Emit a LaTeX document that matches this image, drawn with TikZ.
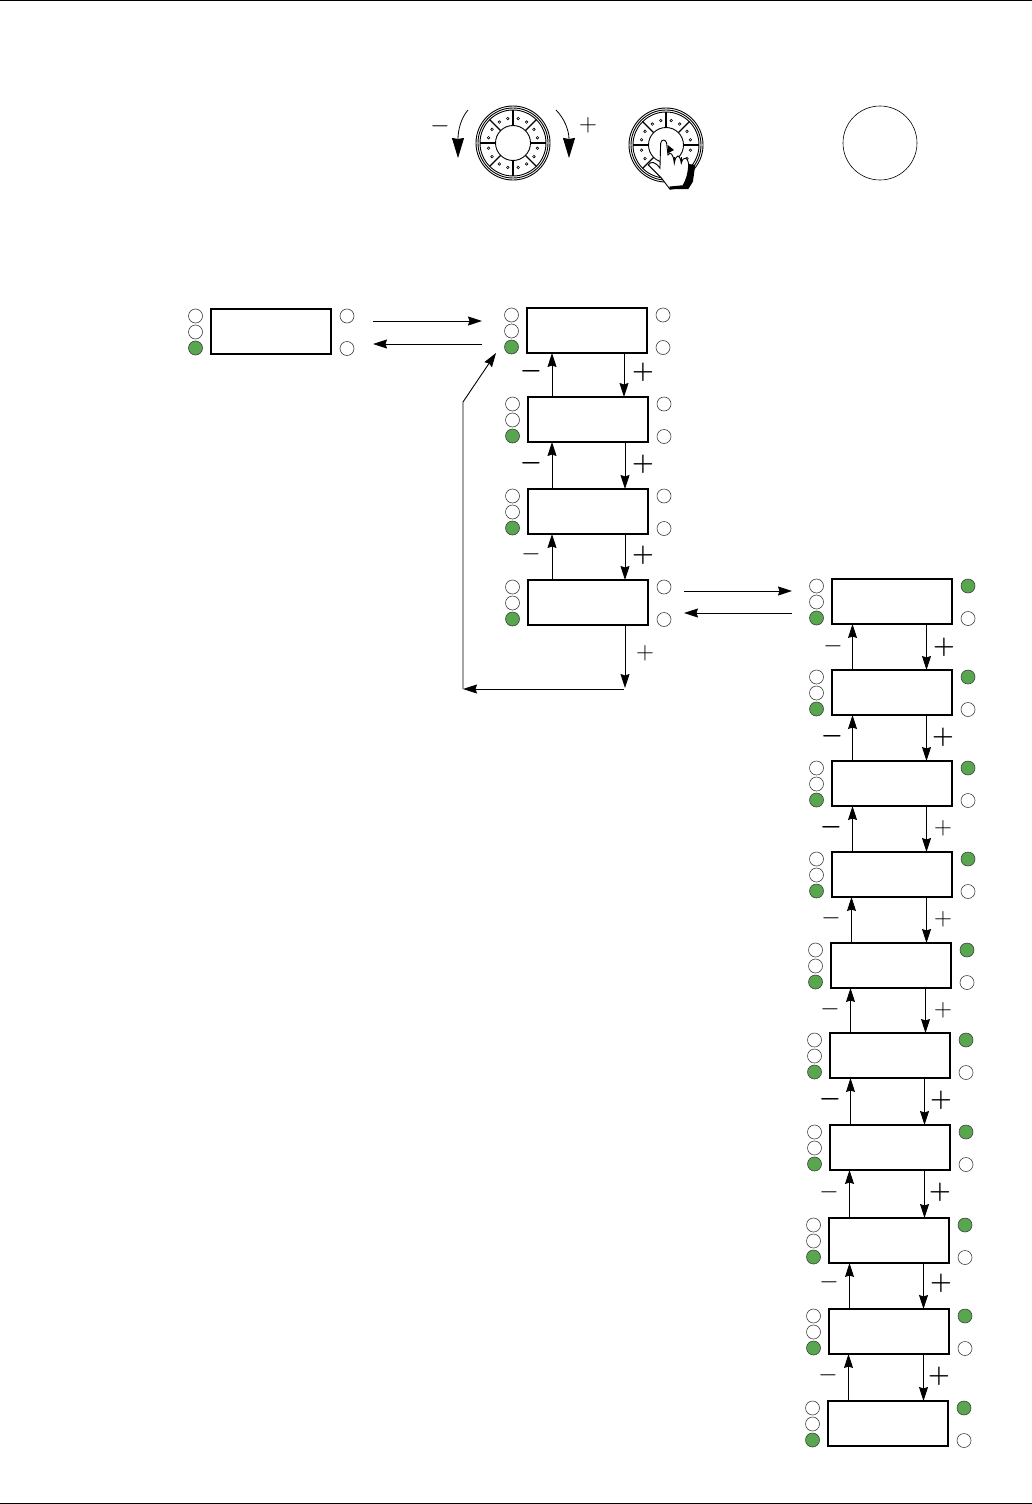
\documentclass[tikz,border=0pt]{standalone}
\usepackage{amsfonts, amssymb, amsmath}
\usetikzlibrary{arrows.meta}
\definecolor{lampgreen}{RGB}{88,167,79}
\tikzset{
  panel/.style={draw, line width=1.7pt, minimum width=120pt, minimum height=45pt, inner sep=0pt, outer sep=0pt, anchor=north west},
  lamp/.style={circle, draw=black!75, line width=0.6pt, minimum size=14pt, inner sep=0pt},
  flow/.style={line width=0.9pt, -{Stealth[length=14pt, width=9pt, inset=1.5pt]}},
  plusthin/.style={font=\fontsize{30}{30}\selectfont, inner sep=0pt},
  plusbold/.style={font=\fontsize{31}{31}\selectfont\boldmath, inner sep=0pt},
}
\begin{document}
\begin{tikzpicture}[x=1pt, y=-1pt]
  \useasboundingbox (0, 0) rectangle (1032, 1504);
  \draw[line width=1pt] (0, 0.5) -- (1032, 0.5);
  \draw[line width=1pt] (0, 1503) -- (1032, 1503);

  % knobs
  \foreach \kx/\ky in {513/143, 666/145} {
    \draw[line width=0.9pt] (\kx, \ky) circle[radius=37] (\kx, \ky) circle[radius=35];
    \draw[line width=0.9pt] (\kx, \ky) circle[radius=33] (\kx, \ky) circle[radius=17.5];
    \foreach \k in {0,...,7} {
      \pgfmathsetmacro\ang{45*\k}
      \pgfmathsetmacro\angA{45*\k+12}
      \pgfmathsetmacro\angB{45*\k+33}
      \draw[line width=1.3pt] ([shift={(\ang:17.5)}]\kx, \ky) -- ([shift={(\ang:33)}]\kx, \ky);
      \draw[line width=0.6pt] ([shift={(\angA:25)}]\kx, \ky) circle[radius=1.3];
      \draw[line width=0.6pt] ([shift={(\angB:25)}]\kx, \ky) circle[radius=1.3];
    }
  }
  \draw[line width=0.6pt] (880, 143) circle[radius=37];

  % hand on the second knob
  \begin{scope}[shift={(620, 100)}, x=0.333pt, y=-0.333pt]
    \draw[fill=white, line width=0.9pt] (85, 195) .. controls (92, 182) and (108, 186) .. (120, 205)
      -- (122, 130) .. controls (124, 117) and (138, 117) .. (140, 130) -- (144, 165)
      .. controls (150, 156) and (160, 158) .. (163, 190)
      .. controls (168, 160) and (180, 162) .. (184, 190)
      .. controls (190, 166) and (205, 170) .. (207, 200)
      -- (205, 260) -- (150, 268) -- (125, 235) -- cycle;
    \fill (205, 192) -- (226, 195) -- (219, 245) -- (205, 268) -- (150, 268) -- (148, 260)
      -- (188, 256) .. controls (198, 240) and (204, 220) .. cycle;
    \fill (143, 135) -- (162, 150) -- (145, 160) -- cycle;
    \draw[line width=0.9pt] (163, 190) -- (163, 170) (184, 190) -- (184, 172);
  \end{scope}

  % turning arrows
  \coordinate (ccwstart) at (468, 110);
  \coordinate (ccwend) at (458, 158);
  \coordinate (cwstart) at (556, 110);
  \coordinate (cwend) at (569, 158);
  \draw[line width=0.8pt, -{Stealth[length=20pt, width=12pt, inset=1pt]}] (ccwstart) .. controls (461, 118) and (458, 130) .. (ccwend);
  \draw[line width=0.8pt, -{Stealth[length=20pt, width=12pt, inset=1pt]}] (cwstart) .. controls (564, 118) and (569, 130) .. (cwend);
  \node[plusthin] (turnminus) at (440, 126) {$-$};
  \node[plusthin] (turnplus) at (588, 125) {$+$};

  % panels
  \foreach \name/\x/\y/\fillc in {
    home/211/309/white,
    ma/527/308/white, mb/528/397/white, mc/528/489/white, md/528/580/white,
    sa/832/579/lampgreen, sb/832/670/lampgreen, sc/832/761/lampgreen, sd/832/852/lampgreen,
    se/831/943/lampgreen, sf/830/1033/lampgreen, sg/830/1125/lampgreen, sh/829/1218/lampgreen,
    si/829/1309/lampgreen, sj/828/1401/lampgreen} {
    \node[panel] (\name) at (\x, \y) {};
    \node[lamp] (\name-a) at (\x-15.5, \y+7) {};
    \node[lamp] (\name-b) at (\x-15.5, \y+23) {};
    \node[lamp, fill=lampgreen] (\name-c) at (\x-15.5, \y+39) {};
    \node[lamp, fill=\fillc] (\name-d) at (\x+136, \y+7) {};
    \node[lamp] (\name-e) at (\x+136, \y+39.5) {};
  }

  % up and down arrows
  \foreach \top/\low in {ma/mb, mb/mc, mc/md} {
    \draw[flow] ([xshift=-36pt]\low.north) -- ([xshift=-36pt]\low.north |- \top.south);
    \draw[flow] ([xshift=37pt]\top.south) -- ([xshift=37pt]\top.south |- \low.north);
  }
  \foreach \top/\low in {sa/sb, sb/sc, sc/sd, sd/se, se/sf, sf/sg, sg/sh, sh/si, si/sj} {
    \draw[flow] ([xshift=-39.5pt]\low.north) -- ([xshift=-39.5pt]\low.north |- \top.south);
    \draw[flow] ([xshift=34.5pt]\top.south) -- ([xshift=34.5pt]\top.south |- \low.north);
  }

  % sideways arrows
  \coordinate (homeout) at (373, 321);
  \coordinate (mainin) at (482, 321);
  \coordinate (mainout) at (482, 344);
  \coordinate (homein) at (373, 344);
  \draw[flow] (homeout) -- (mainin);
  \draw[flow] (mainout) -- (homein);
  \coordinate (subout) at (684, 591);
  \coordinate (subin) at (792, 591);
  \coordinate (subback) at (792, 613);
  \coordinate (subret) at (684, 613);
  \draw[flow] (subout) -- (subin);
  \draw[flow] (subback) -- (subret);

  % way back to the top
  \coordinate (loopdown) at (625, 688);
  \coordinate (loopright) at (624, 689);
  \coordinate (loopleft) at (463, 689);
  \coordinate (loopbend) at (463, 402);
  \coordinate (looptip) at (496, 353);
  \draw[flow] ([xshift=37pt]md.south) -- (loopdown);
  \draw[flow] (loopright) -- (loopleft);
  \draw[flow] (loopleft) -- (loopbend) -- (looptip);

  % plus and minus marks
  \foreach \n/\x/\y/\sty in {
    a/531/371/plusbold, b/531/463/plusbold, c/531/554/plusthin,
    d/833/646/plusthin, e/832/736/plusbold, f/831/827/plusbold, g/831/918/plusthin,
    h/830/1009/plusthin, i/830/1099/plusbold, j/829/1192/plusthin,
    k/829/1282/plusthin, l/828/1375/plusthin} {
    \node[\sty] (minus-\n) at (\x, \y) {$-$};
  }
  \foreach \n/\x/\y/\sty in {
    a/643/372/plusbold, b/643/464/plusbold, c/643/555/plusbold, d/645/653/plusthin,
    e/944/647/plusbold, f/943/737/plusbold, g/943/828/plusthin, h/943/919/plusthin,
    i/943/1010/plusthin, j/941/1100/plusbold, k/940/1192/plusbold,
    l/941/1283/plusbold, m/939/1376/plusbold} {
    \node[\sty] (plus-\n) at (\x, \y) {$+$};
  }
\end{tikzpicture}
\end{document}
